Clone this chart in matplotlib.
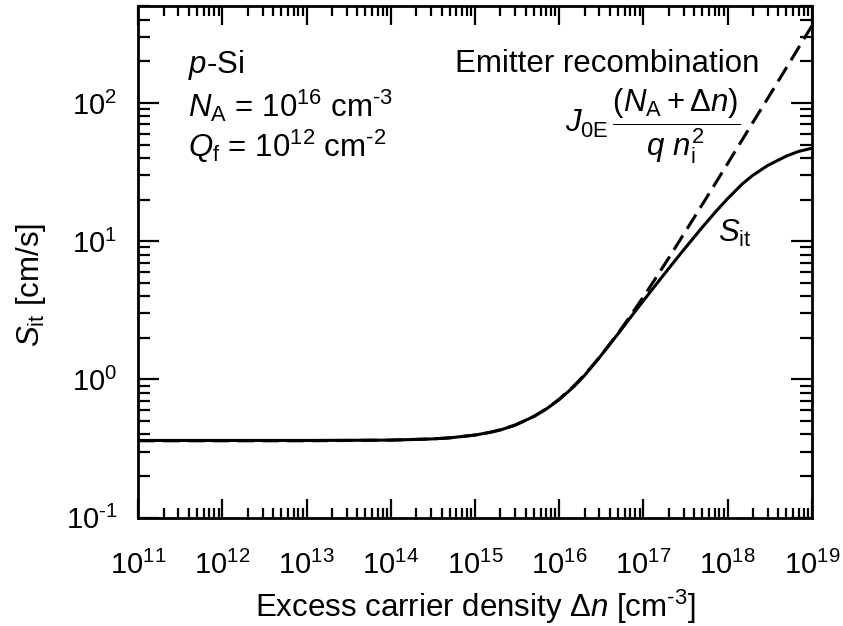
import matplotlib
matplotlib.use('Agg')
import matplotlib.pyplot as plt
import matplotlib.ticker as mticker

plt.rcParams['font.family'] = 'Liberation Sans'
plt.rcParams['mathtext.fontset'] = 'custom'
plt.rcParams['mathtext.rm'] = 'Liberation Sans'
plt.rcParams['mathtext.it'] = 'Liberation Sans:italic'
plt.rcParams['mathtext.bf'] = 'Liberation Sans:bold'
plt.rcParams['axes.unicode_minus'] = False

# excess carrier density grid [cm^-3]
delta_n = [1e11, 1e12, 1e13, 1e14, 3e14, 5e14, 1e15, 1.5e15, 2e15, 3e15, 5e15, 7e15,
           1e16, 1.5e16, 2e16, 3e16, 5e16, 7e16, 1e17, 1.5e17, 2e17, 3e17,
           5e17, 7e17, 1e18, 1.5e18, 2e18, 3e18, 5e18, 7e18, 1e19]

# S_it [cm/s], solid curve
s_it = [0.362, 0.362, 0.362, 0.364, 0.371, 0.378, 0.396, 0.414, 0.431, 0.467, 0.54, 0.61,
        0.715, 0.89, 1.07, 1.44, 2.14, 2.80, 3.71, 5.09, 6.35, 8.64,
        12.6, 16.0, 20.3, 26.0, 30.0, 35.3, 41.3, 44.6, 47.0]

# emitter recombination, dashed curve
s_emitter = [0.360, 0.360, 0.360, 0.364, 0.371, 0.378, 0.396, 0.414, 0.432, 0.468, 0.54, 0.612,
             0.72, 0.90, 1.08, 1.44, 2.16, 2.88, 3.96, 5.76, 7.56, 11.2,
             18.4, 25.6, 36.4, 54.4, 72.4, 108, 180, 252, 360]

x_ticks = [1e11, 1e12, 1e13, 1e14, 1e15, 1e16, 1e17, 1e18, 1e19]
x_labels = ['11', '12', '13', '14', '15', '16', '17', '18', '19']
y_ticks = [1e-1, 1e0, 1e1, 1e2]
y_labels = ['-1', '0', '1', '2']

fig = plt.figure(figsize=(8.43, 6.26), dpi=100)
ax = fig.add_axes([0.164, 0.173, 0.799, 0.817])

ax.plot(delta_n, s_emitter, color='black', lw=2.2, linestyle=(0, (5.5, 2.6)))
ax.plot(delta_n, s_it, color='black', lw=2.2)

ax.set_xscale('log')
ax.set_yscale('log')
ax.set_xlim(1e11, 1e19)
ax.set_ylim(1e-1, 500)
ax.set_xticks(x_ticks)
ax.set_xticklabels([r'10$^{\text{%s}}$' % s for s in x_labels])
ax.set_yticks(y_ticks)
ax.set_yticklabels([r'10$^{\text{%s}}$' % s for s in y_labels])
ax.xaxis.set_minor_locator(mticker.LogLocator(base=10, subs=range(2, 10), numticks=100))
ax.yaxis.set_minor_locator(mticker.LogLocator(base=10, subs=range(2, 10), numticks=100))
ax.xaxis.set_minor_formatter(mticker.NullFormatter())
ax.yaxis.set_minor_formatter(mticker.NullFormatter())

for sp in ax.spines.values():
    sp.set_linewidth(2.0)
ax.tick_params(which='both', direction='in', top=True, right=True, width=1.6)
ax.tick_params(axis='x', which='major', length=14, labelsize=21, pad=24)
ax.tick_params(axis='x', which='minor', length=7)
ax.tick_params(axis='y', which='major', length=15, labelsize=21, pad=15)
ax.tick_params(axis='y', which='minor', length=8.5)

ax.set_xlabel(r'Excess carrier density $\Delta n$ [cm$^{\text{-3}}$]', fontsize=22.5)
ax.set_ylabel(r'$S_{\rm it}$ [cm/s]', fontsize=22.5)
ax.xaxis.set_label_coords(0.5, -0.136)
ax.yaxis.set_label_coords(-0.134, 0.455)

fs = 22.5
ax.text(0.074, 0.869, r'$p$-Si', transform=ax.transAxes, fontsize=fs, va='baseline')
ax.text(0.074, 0.783, r'$N_{\rm A}$ = 10$^{16}$ cm$^{\text{-3}}$', transform=ax.transAxes,
        fontsize=fs, va='baseline')
ax.text(0.074, 0.705, r'$Q_{\rm f}$ = 10$^{12}$ cm$^{\text{-2}}$', transform=ax.transAxes,
        fontsize=fs, va='baseline')
ax.text(0.922, 0.871, 'Emitter recombination', transform=ax.transAxes, fontsize=fs,
        ha='right', va='baseline')
ax.text(0.633, 0.765, r'$J_{\rm 0E}\,\dfrac{(N_{\rm A} + \Delta n)}{q\ n_{\rm i}^{2}}$',
        transform=ax.transAxes, fontsize=fs, va='center')
ax.text(0.860, 0.539, r'$S_{\rm it}$', transform=ax.transAxes, fontsize=fs, va='baseline')

fig.savefig('out.png', dpi=100)
